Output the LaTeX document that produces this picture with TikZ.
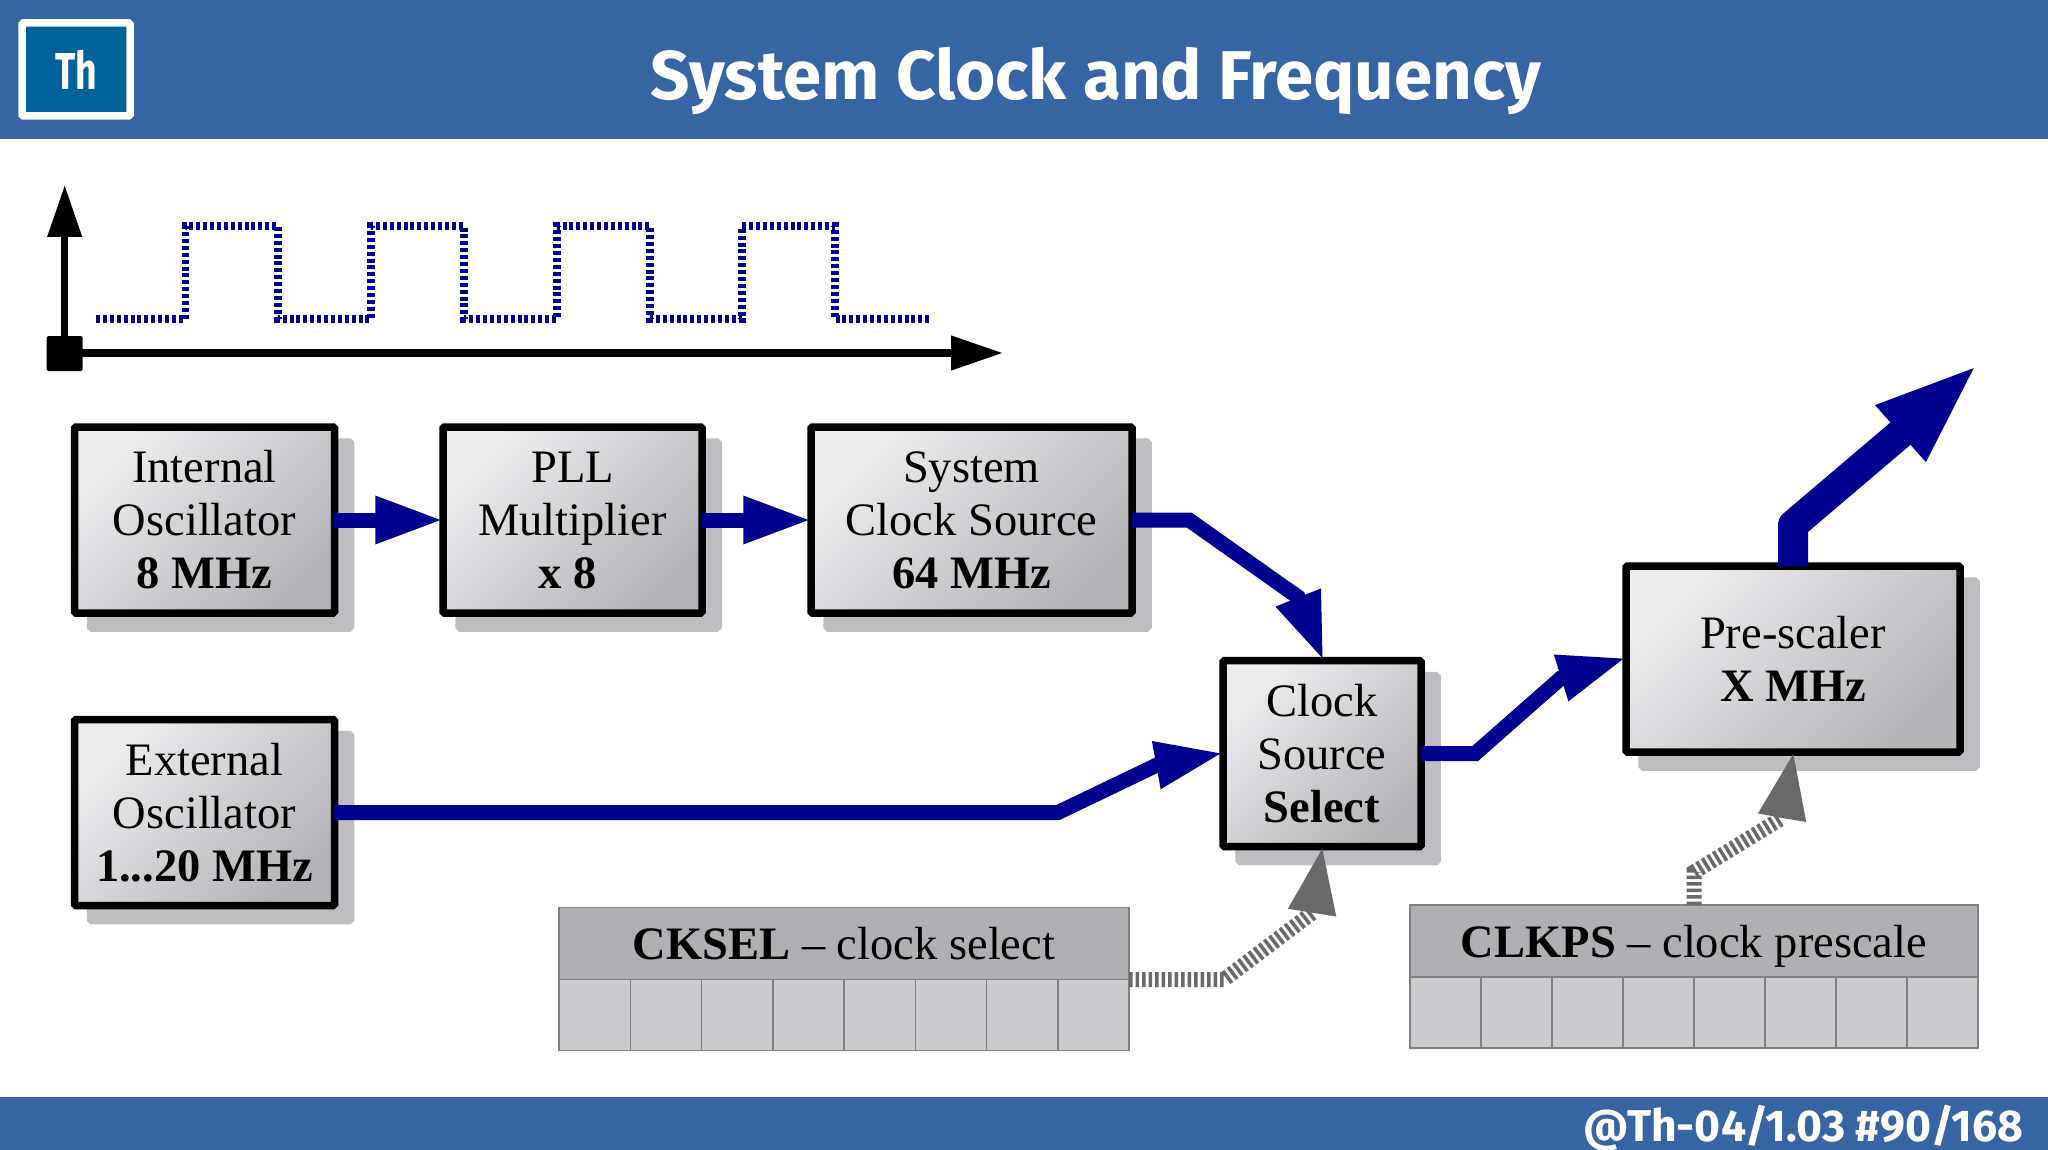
\documentclass[tikz,border=0pt]{standalone}
\usepackage{fontspec}
\setmainfont{Liberation Serif}
\newfontfamily\headfont{Fira Sans}
\usetikzlibrary{arrows.meta,shadows}

\definecolor{barblue}{HTML}{3665A3}
\definecolor{logoblue}{HTML}{00639C}
\definecolor{wireblue}{HTML}{000090}
\definecolor{hatchgray}{HTML}{69686B}
\definecolor{shadowgray}{HTML}{BEBDC1}
\definecolor{boxlight}{HTML}{EDEDF0}
\definecolor{boxdark}{HTML}{B4B3B7}
\definecolor{reghead}{HTML}{B0AFB3}
\definecolor{regcell}{HTML}{CBCACE}

\tikzset{
  block/.style={draw=black, line width=7.5pt, rounded corners=1.5pt,
    top color=boxlight, bottom color=boxdark, shading angle=45,
    copy shadow={shadow xshift=16pt, shadow yshift=-15pt, draw=shadowgray, fill=shadowgray, opacity=1},
    align=center, inner sep=0pt, font=\fontsize{46.5}{53}\selectfont},
  wire/.style={draw=wireblue, line width=15pt, shorten <=-4pt, shorten >=-4.5pt, line join=miter,
    -{Triangle[length=68.5pt,width=44pt,fill=wireblue]}},
  fat wire/.style={wire, line width=30pt, line join=round, shorten >=-5.5pt,
    -{Triangle[length=105.5pt,width=67pt,fill=wireblue]}},
  hatch/.style={draw=hatchgray, line width=15pt, dash pattern=on 3.5pt off 3pt, shorten >=-5pt,
    -{Triangle[length=68pt,width=44pt,fill=hatchgray]}},
  axis/.style={draw=black, line width=7.5pt, shorten >=-3pt,
    -{Triangle[length=52pt,width=33pt,fill=black]}},
  reg head/.style={draw=gray, line width=1.5pt, fill=reghead, inner sep=0pt, outer sep=0pt,
    minimum height=72pt, text height=43pt, text depth=11pt, font=\fontsize{46.5}{53}\selectfont},
  reg cell/.style={draw=gray, line width=1.5pt, fill=regcell, inner sep=0pt, outer sep=0pt,
    minimum height=71pt, anchor=north west},
  bar text/.style={text=white, anchor=base, font=\headfont\bfseries},
}

\begin{document}
\begin{tikzpicture}[x=1pt,y=-1pt]
\useasboundingbox (0,0) rectangle (2048,1150);
\fill[white] (0,0) rectangle (2048,1150);

% title and footer bars
\fill[barblue] (0,0) rectangle (2048,139);
\fill[barblue] (0,1097) rectangle (2048,1150);
\node[draw=white, line width=7.5pt, fill=logoblue, rounded corners=1.5pt, minimum width=108pt,
  minimum height=93pt, text=white, inner sep=0pt, font=\fontsize{52}{52}\headfont\bfseries]
  (logo) at (76,69.5) {\scalebox{0.72}[1]{Th}};
\node[bar text, font=\fontsize{69}{69}\headfont\bfseries] (title) at (1096,99.5) {System Clock and Frequency};
\node[bar text, anchor=base east, font=\fontsize{44.5}{44.5}\headfont\bfseries] (page) at (2027,1141.5) {@Th-04/1.03 \#90/168};

% time axes and clock wave
\node[fill=black, rounded corners=1.5pt, minimum width=36pt, minimum height=35pt, inner sep=0pt] (orig) at (64.7,353.5) {};
\coordinate (ytip) at (65,188);
\coordinate (xtip) at (1000,353);
\draw[axis] (orig.center) -- (orig.center |- ytip);
\draw[axis] (orig.center |- xtip) -- (xtip);
\draw[wireblue, line width=7.5pt, dash pattern=on 4pt off 2.9pt]
  (96,319) -- (185.6,319) -- (185.6,226) -- (278,226) -- (278,319)
  -- (371,319) -- (371,226) -- (464,226) -- (464,319)
  -- (557,319) -- (557,226) -- (650,226) -- (650,319)
  -- (742,319) -- (742,226) -- (835,226) -- (835,319) -- (929,319);

% blocks
\node[block, minimum width=260pt, minimum height=186pt] (int) at (204.5,520) {Internal\\Oscillator\\\textbf{8 MHz}};
\node[block, minimum width=259pt, minimum height=186pt] (pll) at (572.5,520) {\rule{0pt}{32pt}PLL\\Multiplier\\\textbf{x 8}\hspace*{9pt}};
\node[block, minimum width=321pt, minimum height=186pt] (sys) at (971.5,520) {\rule{0pt}{32pt}System\\Clock Source\\\textbf{64 MHz}};
\node[block, minimum width=260pt, minimum height=186pt] (ext) at (204.5,812.5) {External\\Oscillator\\\textbf{1...20 MHz}};
\node[block, minimum width=198pt, minimum height=186pt] (clk) at (1322,753.7) {Clock\\Source\\\textbf{Select}};
\node[block, minimum width=334pt, minimum height=186pt] (pre) at (1793,659) {Pre-scaler\\\textbf{X MHz}};

% registers
\node[reg head, minimum width=570pt] (cksel) at (844,943.5) {\textbf{CKSEL} -- clock select};
\foreach \i in {0,...,7}
  \node[reg cell, minimum width=71.25pt] (cks\i) at ([xshift=\i*71.25pt]cksel.south west) {};
\node[reg head, minimum width=568pt] (clkps) at (1694,941) {\textbf{CLKPS} -- clock prescale};
\foreach \i in {0,...,7}
  \node[reg cell, minimum width=71pt] (clp\i) at ([xshift=\i*71pt]clkps.south west) {};

% bends and the free end
\coordinate (s1) at (1189,520);
\coordinate (s2) at (1298,597);
\coordinate (e1) at (1058,812.5);
\coordinate (e2) at (1157,765);
\coordinate (c1) at (1475,753.7);
\coordinate (c2) at (1561,678);
\coordinate (p1) at (1793,525);
\coordinate (p2) at (1900,434);
\coordinate (out) at (1975,367);
\coordinate (k1) at (1224,979.5);
\coordinate (k2) at (1312,913);
\coordinate (l1) at (1694,872);
\coordinate (l2) at (1782,818);

% connectors
\draw[wire] (int) -- (pll);
\draw[wire] (pll) -- (sys);
\draw[wire] (sys.east) -- (s1) -- (s2) -- (clk.north);
\draw[wire] (ext.east) -- (e1) -- (e2) -- (clk.west);
\draw[wire] (clk.east) -- (c1) -- (c2) -- (pre.west);
\draw[fat wire] (pre.north) -- (p1) -- (p2) -- (out);
\draw[hatch] (cksel.south east) -- (k1) -- (k2) -- (clk.south);
\draw[hatch] (clkps.north) -- (l1) -- (l2) -- (pre.south);
\end{tikzpicture}
\end{document}
